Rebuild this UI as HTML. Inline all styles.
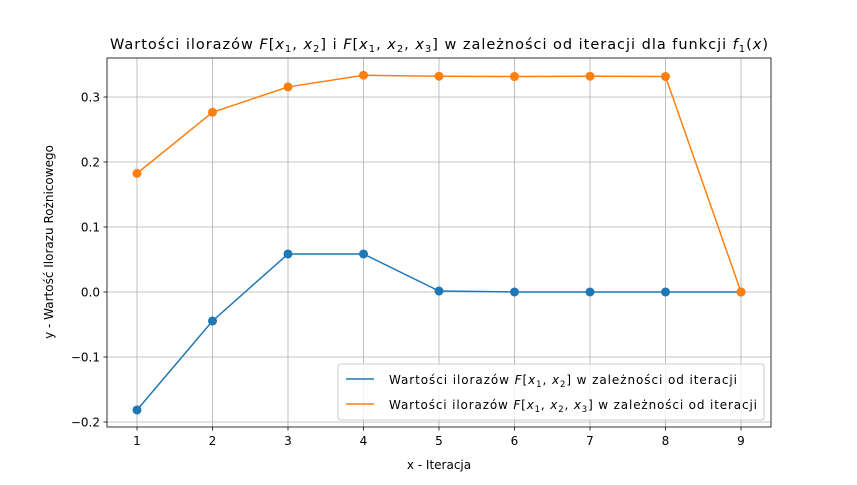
<!DOCTYPE html>
<html><head><meta charset="utf-8"><style>
body{margin:0;background:#fff;}
svg text{font-family:"DejaVu Sans","Liberation Sans",sans-serif;fill:#000;}
</style></head><body>
<svg id="chart" width="857" height="480" xmlns="http://www.w3.org/2000/svg">
<rect width="857" height="480" fill="#fff"/>
<g id="grid"></g>
<g id="series"></g>
<rect x="107" y="58" width="664" height="369" fill="none" stroke="#000" stroke-width="0.8"/>
<g id="ticks"></g>
<text x="110" y="49" font-size="14.5" textLength="658" lengthAdjust="spacing">Wartości ilorazów <tspan font-style="italic">F</tspan>[<tspan font-style="italic">x</tspan><tspan font-size="10" dy="3">1</tspan><tspan dy="-3">, </tspan><tspan font-style="italic">x</tspan><tspan font-size="10" dy="3">2</tspan><tspan dy="-3">] i </tspan><tspan font-style="italic">F</tspan>[<tspan font-style="italic">x</tspan><tspan font-size="10" dy="3">1</tspan><tspan dy="-3">, </tspan><tspan font-style="italic">x</tspan><tspan font-size="10" dy="3">2</tspan><tspan dy="-3">, </tspan><tspan font-style="italic">x</tspan><tspan font-size="10" dy="3">3</tspan><tspan dy="-3">] w zależności od iteracji dla funkcji </tspan><tspan font-style="italic">f</tspan><tspan font-size="10" dy="3">1</tspan><tspan dy="-3">(</tspan><tspan font-style="italic">x</tspan>)</text>
<text x="439" y="469" font-size="12" text-anchor="middle">x - Iteracja</text>
<text x="0" y="0" font-size="12" text-anchor="middle" transform="translate(53,242) rotate(-90)">y - Wartość Ilorazu Rożnicowego</text>
<g>
<rect x="338" y="364" width="426" height="56" rx="3" fill="#fff" fill-opacity="0.8" stroke="#ccc"/>
<line x1="346" y1="379" x2="374" y2="379" stroke="#1f77b4" stroke-width="1.5"/>
<text x="389" y="384" font-size="12" textLength="348" lengthAdjust="spacing">Wartości ilorazów <tspan font-style="italic">F</tspan>[<tspan font-style="italic">x</tspan><tspan font-size="8.5" dy="3">1</tspan><tspan dy="-3">, </tspan><tspan font-style="italic">x</tspan><tspan font-size="8.5" dy="3">2</tspan><tspan dy="-3">] w zależności od iteracji</tspan></text>
<line x1="346" y1="404" x2="374" y2="404" stroke="#ff7f0e" stroke-width="1.5"/>
<text x="389" y="409" font-size="12" textLength="368" lengthAdjust="spacing">Wartości ilorazów <tspan font-style="italic">F</tspan>[<tspan font-style="italic">x</tspan><tspan font-size="8.5" dy="3">1</tspan><tspan dy="-3">, </tspan><tspan font-style="italic">x</tspan><tspan font-size="8.5" dy="3">2</tspan><tspan dy="-3">, </tspan><tspan font-style="italic">x</tspan><tspan font-size="8.5" dy="3">3</tspan><tspan dy="-3">] w zależności od iteracji</tspan></text>
</g>
</svg>
<script>
const iterations=[1,2,3,4,5,6,7,8,9];
const seriesF12=[-0.1815,-0.0446,0.0585,0.0585,0.0015,0.0,0.0,0.0,0.0];
const seriesF123=[0.1825,0.2765,0.3155,0.3335,0.332,0.3315,0.332,0.3315,0.0];
const xTicks=[1,2,3,4,5,6,7,8,9];
const yTicks=[-0.2,-0.1,0.0,0.1,0.2,0.3];
const yTickLabels=["−0.2","−0.1","0.0","0.1","0.2","0.3"];
const NS="http://www.w3.org/2000/svg";
const xs=v=>137+(v-1)*75.5;
const ys=v=>292-v*650;
function mk(t,a,p){const e=document.createElementNS(NS,t);for(const k in a)e.setAttribute(k,a[k]);p.appendChild(e);return e;}
const grid=document.getElementById('grid'),ticks=document.getElementById('ticks'),ser=document.getElementById('series');
xTicks.forEach(v=>{
 const g=mk('line',{x1:xs(v),x2:xs(v),y1:58,y2:427,stroke:'#b0b0b0','stroke-width':0.8},grid);
 
 
 const t=mk('line',{x1:xs(v),x2:xs(v),y1:427,y2:430.5,stroke:'#000','stroke-width':0.8},ticks);
 
 
 const l=mk('text',{x:xs(v),y:445,'font-size':12,'text-anchor':'middle'},ticks);
 
 
 l.textContent=v;
});
yTicks.forEach((v,i)=>{
 const g=mk('line',{x1:107,x2:771,y1:ys(v),y2:ys(v),stroke:'#b0b0b0','stroke-width':0.8},grid);
 
 
 const t=mk('line',{x1:103.5,x2:107,y1:ys(v),y2:ys(v),stroke:'#000','stroke-width':0.8},ticks);
 
 
 const l=mk('text',{x:100,y:ys(v)+4.5,'font-size':12,'text-anchor':'end'},ticks);
 
 
 l.textContent=yTickLabels[i];
});
function draw(vals,color,name){
 const pl=mk('polyline',{points:vals.map((v,i)=>xs(iterations[i])+','+ys(v)).join(' '),fill:'none',stroke:color,'stroke-width':1.5},ser);
 
 
 vals.forEach((v,i)=>{
  const c=mk('circle',{cx:xs(iterations[i]),cy:ys(v),r:4.5,fill:color},ser);
  
  
 });
}
draw(seriesF12,'#1f77b4','f12');
draw(seriesF123,'#ff7f0e','f123');
</script>
</body></html>
